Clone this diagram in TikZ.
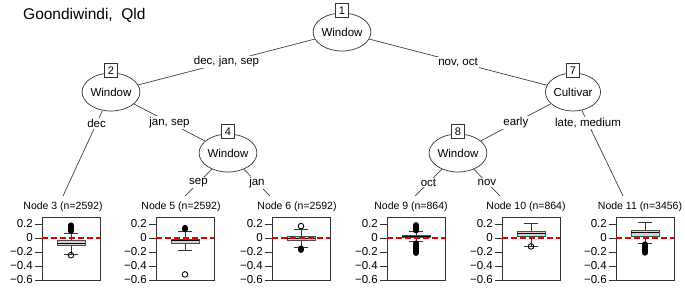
\documentclass[tikz,border=0pt]{standalone}
\usepackage{fontspec}
\setmainfont{Liberation Sans}
\usepackage{tikz}
\usepackage{xcolor}
\usetikzlibrary{shapes.geometric}

\begin{document}
\begin{tikzpicture}[x=1pt,y=-1pt,
  declare function={vy(\v)=238-70*\v;},
  splitnode/.style={ellipse,draw=black!80,line width=0.7pt,fill=white,minimum width=52pt,minimum height=38pt,inner sep=0pt,font=\fontsize{11.5}{13}\selectfont},
  idbox/.style={draw=black!80,line width=0.7pt,fill=white,inner sep=0pt,minimum width=13pt,minimum height=14pt,font=\fontsize{11}{12}\selectfont},
  edgelabel/.style={fill=white,inner sep=1pt,font=\fontsize{11.5}{13}\selectfont},
  conn/.style={draw=black!75,line width=0.7pt},
  paneltitle/.style={inner sep=0pt,font=\fontsize{10.5}{12}\selectfont},
  ticklabel/.style={anchor=east,inner sep=0pt,font=\fontsize{11.5}{13}\selectfont},
  refline/.style={red!90!black,line width=1.8pt,dash pattern=on 6pt off 3pt},
  outlier/.style={draw=black,line width=0.9pt}]
\useasboundingbox (0,0) rectangle (685,287);
\node[anchor=west,inner sep=0pt,font=\fontsize{15.5}{17}\selectfont] (site) at (23,15) {Goondiwindi,\ \ Qld};

% inner nodes
\node[splitnode] (n1) at (342,32) {Window};
\node[splitnode] (n2) at (111,92) {Window};
\node[splitnode] (n4) at (228,153) {Window};
\node[splitnode] (n7) at (573,92) {Cultivar};
\node[splitnode] (n8) at (458,153) {Window};
\coordinate (t3) at (63,196);
\coordinate (t5) at (185,196);
\coordinate (t6) at (270,196);
\coordinate (t9) at (415,196);
\coordinate (t10) at (500,196);
\coordinate (t11) at (623,196);

\draw[conn] (n1) -- node[edgelabel] (e2) {dec, jan, sep} (n2);
\draw[conn] (n1) -- node[edgelabel] (e7) {nov, oct} (n7);
\draw[conn] (n2) -- node[edgelabel,pos=0.15] (e3) {dec} (t3);
\draw[conn] (n2) -- node[edgelabel] (e4) {jan, sep} (n4);
\draw[conn] (n4) -- node[edgelabel] (e5) {sep} (t5);
\draw[conn] (n4) -- node[edgelabel] (e6) {jan} (t6);
\draw[conn] (n7) -- node[edgelabel] (e8) {early} (n8);
\draw[conn] (n7) -- node[edgelabel,pos=0.15] (e11) {late, medium} (t11);
\draw[conn] (n8) -- node[edgelabel] (e9) {oct} (t9);
\draw[conn] (n8) -- node[edgelabel] (e10) {nov} (t10);

\node[idbox] (id1) at ([yshift=2pt]n1.north) {1};
\node[idbox] (id2) at ([yshift=2pt]n2.north) {2};
\node[idbox] (id4) at ([yshift=2pt]n4.north) {4};
\node[idbox] (id7) at ([yshift=2pt]n7.north) {7};
\node[idbox] (id8) at ([yshift=2pt]n8.north) {8};

% terminal panels
\foreach \lft/\nm/\cnt/\tx in {42/3/2592/63,156/5/2592/181,272/6/2592/297,387/9/864/411,502/10/864/526,616/11/3456/640}{
  \node[paneltitle] (title\nm) at (\tx,207) {Node \nm\ (n=\cnt)};
  \draw[black!80,line width=0.7pt] (\lft,217) rectangle ({\lft+58},280);
  \foreach \v/\lab [count=\k] in {0.2/0.2,0/0,-0.2/−0.2,-0.4/−0.4,-0.6/−0.6}{
    \draw[black!80,line width=0.7pt] ({\lft-7},{vy(\v)}) -- (\lft,{vy(\v)});
    \node[ticklabel] (tick\nm-\k) at ({\lft-9},{vy(\v)}) {\lab};
  }
}
\foreach \cx/\qa/\md/\qb/\wa/\wb in {71/-0.04/-0.075/-0.11/0.07/-0.24,185/-0.015/-0.04/-0.07/0.1/-0.17,301/0.03/0.0/-0.04/0.13/-0.14,416/0.035/0.02/0.005/0.09/-0.05,531/0.09/0.07/0.02/0.21/-0.12,645/0.11/0.08/0.03/0.22/-0.07}{
  \draw[black!80,line width=0.6pt] (\cx,{vy(\wa)}) -- (\cx,{vy(\wb)});
  \draw[black!80,line width=0.8pt] ({\cx-7},{vy(\wa)}) -- ({\cx+7},{vy(\wa)});
  \draw[black!80,line width=0.8pt] ({\cx-7},{vy(\wb)}) -- ({\cx+7},{vy(\wb)});
  \draw[black!70,fill=gray!35,line width=0.7pt] ({\cx-14},{vy(\qa)}) rectangle ({\cx+14},{vy(\qb)});
  \draw[black,line width=0.9pt] ({\cx-14},{vy(\md)}) -- ({\cx+14},{vy(\md)});
}
% outliers
\draw[line width=6pt,line cap=round] (71,{vy(0.10)}) -- (71,{vy(0.18)});
\draw[outlier] (71,{vy(-0.245)}) circle (2.8pt);
\draw[line width=6pt,line cap=round] (185,{vy(0.125)}) -- (185,{vy(0.145)});
\draw[outlier] (185,{vy(-0.52)}) circle (2.8pt);
\draw[outlier] (301,{vy(0.17)}) circle (2.8pt);
\draw[line width=6pt,line cap=round] (301,{vy(-0.15)}) -- (301,{vy(-0.17)});
\draw[line width=6.5pt,line cap=round] (416,{vy(0.11)}) -- (416,{vy(0.18)});
\draw[line width=6.5pt,line cap=round] (416,{vy(-0.08)}) -- (416,{vy(-0.21)});
\draw[outlier] (531,{vy(-0.12)}) circle (2.8pt);
\draw[line width=6pt,line cap=round] (645,{vy(-0.09)}) -- (645,{vy(-0.21)});
\foreach \lft in {42,156,272,387,502,616}
  \draw[refline] (\lft,{vy(0)}) -- ({\lft+58},{vy(0)});
\end{tikzpicture}
\end{document}
